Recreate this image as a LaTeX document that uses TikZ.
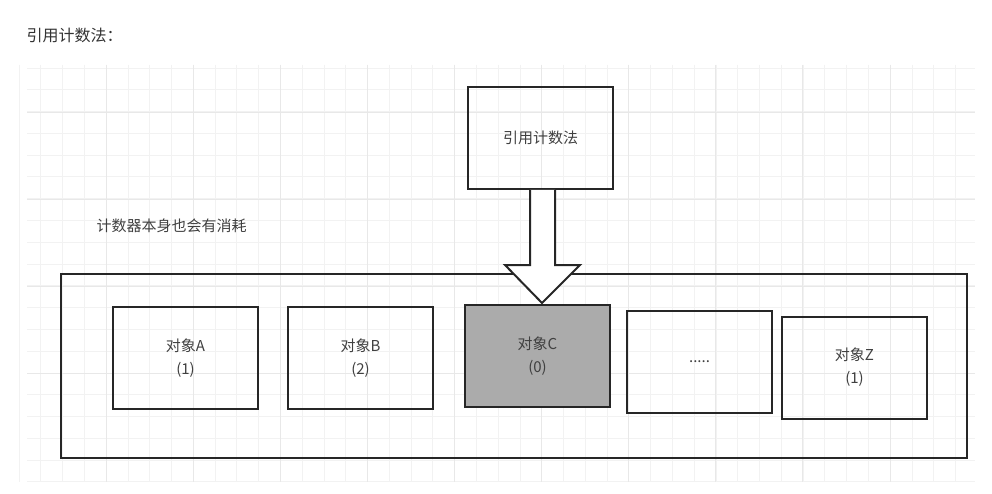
\documentclass[tikz,border=0pt]{standalone}
\usepackage{fontspec}
\newfontfamily\cjk{Noto Sans CJK SC}
\begin{document}
\begin{tikzpicture}[x=1pt,y=-1pt,font=\cjk\fontsize{15}{23}\selectfont,
  obj/.style={draw=black!85,line width=2pt,minimum width=145pt,minimum height=102pt,inner sep=0,align=center,text=black!75}]
\useasboundingbox (0,0) rectangle (992,494);
\fill[white] (0,0) rectangle (992,494);
\foreach \i in {0,...,43} \draw[black!5,line width=0.8pt] ({19+\i*21.78},65) -- ({19+\i*21.78},482);
\foreach \i in {0,...,19} \draw[black!5,line width=0.8pt] (27,{68+\i*21.78}) -- (975,{68+\i*21.78});
\foreach \i in {1,...,10} \draw[black!9,line width=1pt] ({19+\i*87.1},65) -- ({19+\i*87.1},482);
\foreach \i in {1,...,4} \draw[black!9,line width=1pt] (27,{25+\i*87.1}) -- (975,{25+\i*87.1});
\node[anchor=west,text=black!80,font=\cjk\fontsize{16}{18}\selectfont] (title) at (23,35) {引用计数法：};
\node[anchor=west,text=black!75] (cost) at (93,226) {计数器本身也会有消耗};
\node[draw=black!85,line width=2pt,minimum width=906pt,minimum height=184pt,anchor=north west] (cont) at (60,273) {};
\node[obj] (top) at (540.5,138) {引用计数法};
\node[obj] (a) at (185.5,358) {对象A\\(1)};
\node[obj] (b) at (360.5,358) {对象B\\(2)};
\node[obj,fill=black!33] (c) at (537.5,356) {对象C\\(0)};
\node[obj] (d) at (699.5,361.5) {.....};
\node[obj] (z) at (854.5,367.5) {对象Z\\(1)};
\draw[line width=2pt,draw=black!85,fill=white,line join=miter] (top.south -| 530,0) -- (530,265) -- (505,265) -- (542,303) -- (580,265) -- (555,265) -- (top.south -| 555,0) ;
\end{tikzpicture}
\end{document}
